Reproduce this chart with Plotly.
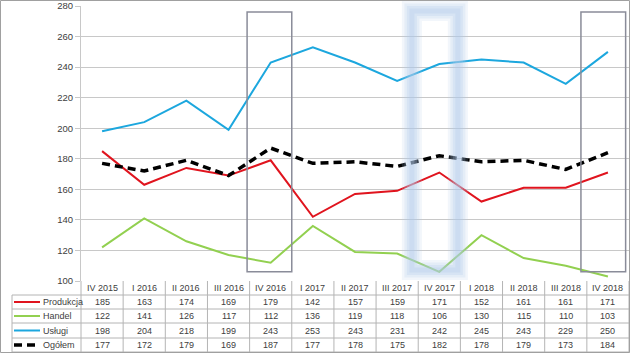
import plotly.graph_objects as go

categories = ["IV 2015", "I 2016", "II 2016", "III 2016", "IV 2016", "I 2017", "II 2017",
              "III 2017", "IV 2017", "I 2018", "II 2018", "III 2018", "IV 2018"]
produkcja = [185, 163, 174, 169, 179, 142, 157, 159, 171, 152, 161, 161, 171]
handel = [122, 141, 126, 117, 112, 136, 119, 118, 106, 130, 115, 110, 103]
uslugi = [198, 204, 218, 199, 243, 253, 243, 231, 242, 245, 243, 229, 250]
ogolem = [177, 172, 179, 169, 187, 177, 178, 175, 182, 178, 179, 173, 184]

series = [
    ("Produkcja", produkcja, "#e0141e", 2, "solid"),
    ("Handel", handel, "#92d050", 2, "solid"),
    ("Usługi", uslugi, "#1ca7de", 2, "solid"),
    ("Ogółem", ogolem, "#000000", 3.5, "8px,5px"),
]

W, H = 630, 353
L, R, T, B = 81, 1, 6, 72
PW, PH = W - L - R, H - T - B
def px(x):
    return (x - L) / PW
def py(y):
    return (T + PH - y) / PH

xs = list(range(len(categories)))
fig = go.Figure()
for name, vals, col, wd, dash in series:
    fig.add_trace(go.Scatter(x=xs, y=vals, mode="lines", name=name,
                             line=dict(color=col, width=wd, dash=dash), showlegend=False))

font = "Liberation Sans, Arial, sans-serif"
txt = "#404040"
grid = "#b4b4b4"
shapes = []
ann = []

def label(x, y, text, xanchor="center"):
    ann.append(dict(x=x, y=y, xref="paper", yref="paper", text=text, showarrow=False,
                    xanchor=xanchor, yanchor="middle",
                    font=dict(family=font, size=9, color=txt)))

# table horizontal lines
for yy in [295, 309, 323, 338, 352]:
    shapes.append(dict(type="line", xref="paper", yref="paper", x0=px(12), x1=px(629.5),
                       y0=py(yy), y1=py(yy), line=dict(color=grid, width=1)))
# vertical lines
n = len(categories)
for k in range(n + 1):
    shapes.append(dict(type="line", xref="paper", yref="paper", x0=k / n, x1=k / n,
                       y0=py(281), y1=py(352.5), line=dict(color=grid, width=1)))
shapes.append(dict(type="line", xref="paper", yref="paper", x0=px(12), x1=px(12),
                   y0=py(295), y1=py(352.5), line=dict(color=grid, width=1)))

row_y = [302, 316, 330.5, 345]
for i, c in enumerate(categories):
    label((i + 0.5) / n, py(288), c)
for r, (name, vals, col, wd, dash) in enumerate(series):
    for i, v in enumerate(vals):
        label((i + 0.5) / n, py(row_y[r]), str(v))
    shapes.append(dict(type="line", xref="paper", yref="paper", x0=px(14), x1=px(40),
                       y0=py(row_y[r]), y1=py(row_y[r]),
                       line=dict(color=col, width=wd, dash=dash)))
    label(px(41), py(row_y[r]), name, xanchor="left")

# gray highlight rectangles
for x0, x1 in [(3.44, 4.5), (11.36, 12.42)]:
    shapes.append(dict(type="rect", xref="x", yref="y", x0=x0, x1=x1, y0=106, y1=276,
                       line=dict(color="#8a8c99", width=1.5), layer="above"))
# blurred blue rectangle
for wdt, op in [(20, 0.16), (15, 0.2), (10, 0.24), (5, 0.28)]:
    shapes.append(dict(type="rect", xref="x", yref="paper", x0=7.35, x1=8.44,
                       y0=py(270), y1=py(11), opacity=op,
                       line=dict(color="#b0cbeb", width=wdt), layer="above"))
# outer border
shapes.append(dict(type="rect", xref="paper", yref="paper", x0=px(0.5), x1=px(629.5),
                   y0=py(352.5), y1=py(0.5), line=dict(color="#a0a0a0", width=1)))

fig.update_layout(
    width=W, height=H, autosize=False,
    margin=dict(l=L, r=R, t=T, b=B, pad=0),
    paper_bgcolor="white", plot_bgcolor="white",
    shapes=shapes, annotations=ann,
    xaxis=dict(range=[-0.5, n - 0.5], showticklabels=False, showgrid=False, zeroline=False,
               showline=False, fixedrange=True),
    yaxis=dict(range=[100, 280], dtick=20, showgrid=True, gridcolor="#c8c8c8", gridwidth=1,
               zeroline=False, showline=True, linecolor="#c8c8c8", linewidth=1,
               ticks="outside", ticklen=5, tickcolor="#c8c8c8",
               tickfont=dict(family=font, size=9.5, color=txt)),
)
fig.write_html("out.html")
